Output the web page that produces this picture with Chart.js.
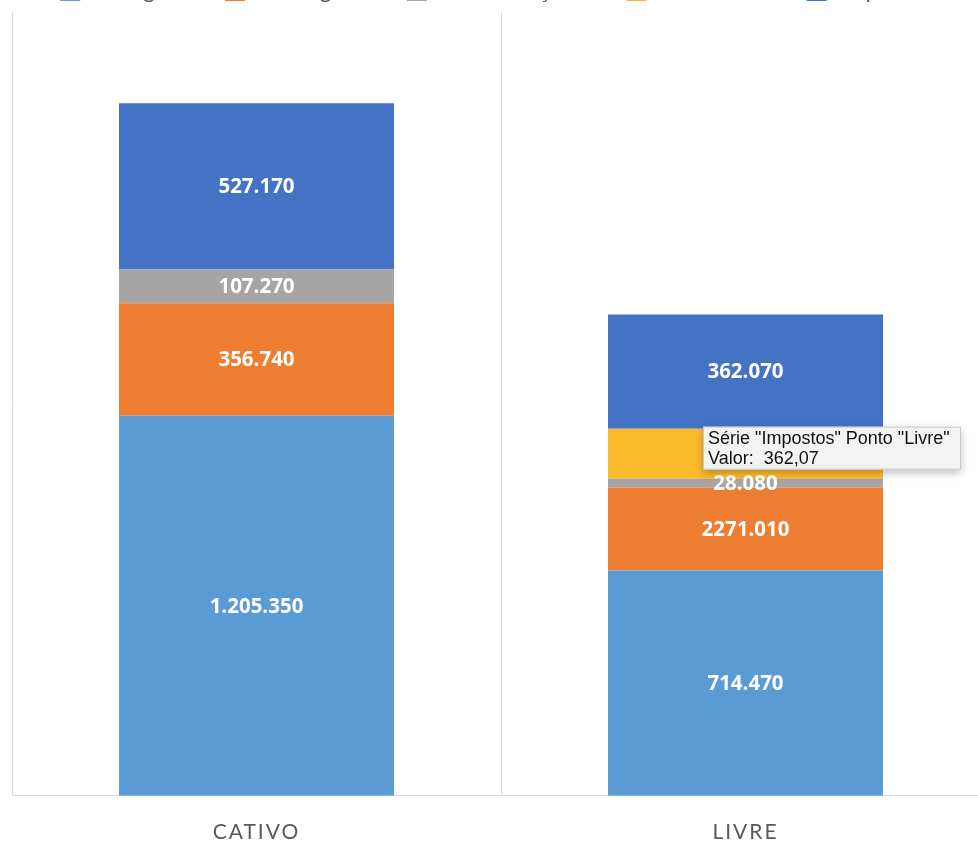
<!DOCTYPE html>
<html>
<head>
<meta charset="utf-8">
<script src="https://cdn.jsdelivr.net/npm/chart.js@4.4.1/dist/chart.umd.min.js"></script>
<style>
    html, body { margin: 0; padding: 0; background: #fff; }
    #wrap { position: relative; width: 978px; height: 843px; overflow: hidden; }
    #wrap canvas { position: absolute; left: 0; top: -68px; }
</style>
</head>
<body>
<div id="wrap"><canvas id="custoChart" width="1000" height="937"></canvas></div>
<script>
//////////////////////// Data ////////////////////////
const categories = ['CATIVO', 'LIVRE'];
const seriesNames = ['Energia', 'Encargos', 'Distribuição', 'Bandeira', 'Impostos'];
const energia = [1205.35, 714.47];
const encargos = [356.74, 263.0];
const distribuicao = [107.27, 28.08];
const bandeira = [0, 159.0];
const impostos = [527.17, 362.07];
// labels as written on the bars (the orange one on LIVRE reads 2271.010)
const energiaLabels = ['1.205.350', '714.470'];
const encargosLabels = ['356.740', '2271.010'];
const distribuicaoLabels = ['107.270', '28.080'];
const bandeiraLabels = [null, '159.000'];
const impostosLabels = ['527.170', '362.070'];
// hover box that sits over the LIVRE bar
const tooltipLines = ['Série "Impostos" Ponto "Livre"', 'Valor:  362,07'];

document.addEventListener('DOMContentLoaded', () => {
    const colors = ['#5B9BD5', '#ED7D31', '#A5A5A5', '#FBBA2C', '#4472C4'];
    const values = [energia, encargos, distribuicao, bandeira, impostos];
    const labels = [energiaLabels, encargosLabels, distribuicaoLabels, bandeiraLabels, impostosLabels];

    const datasets = seriesNames.map((name, i) => ({
        label: name,
        data: values[i],
        backgroundColor: colors[i],
        borderWidth: 0,
        barPercentage: 0.5624,
        categoryPercentage: 1.0,
        valueLabels: labels[i]
    }));

    // spaced-out legend / axis text (measured and drawn the same way),
    // reset before the bars are drawn
    const spacing = {
        id: 'spacing',
        beforeLayout(chart) { chart.ctx.letterSpacing = '2px'; },
        afterLayout(chart) { chart.ctx.letterSpacing = '0px'; },
        beforeDraw(chart) { chart.ctx.letterSpacing = '2px'; },
        beforeDatasetsDraw(chart) { chart.ctx.letterSpacing = '0px'; }
    };

    // white values in the middle of each segment
    const valueLabels = {
        id: 'valueLabels',
        afterDatasetsDraw(chart) {
            const ctx = chart.ctx;
            ctx.save();
            ctx.font = 'bold 20.5px "Open Sans"';
            ctx.fillStyle = '#ffffff';
            ctx.textAlign = 'center';
            ctx.textBaseline = 'middle';
            chart.data.datasets.forEach((ds, di) => {
                chart.getDatasetMeta(di).data.forEach((bar, idx) => {
                    const txt = ds.valueLabels[idx];
                    if (!txt || !ds.data[idx]) return;
                    ctx.fillText(txt, bar.x, (bar.y + bar.base) / 2 + 1);
                });
            });
            ctx.restore();
        }
    };

    // static hover box like the one in the screenshot
    const hoverBox = {
        id: 'hoverBox',
        afterDraw(chart) {
            const ctx = chart.ctx;
            const yellow = chart.getDatasetMeta(3).data[1];
            const x = yellow.x - yellow.width / 2 + 95;
            const y = yellow.y - 2;
            const w = 258, h = 43;
            ctx.save();
            ctx.letterSpacing = '0px';
            ctx.shadowColor = 'rgba(0,0,0,0.25)';
            ctx.shadowBlur = 8;
            ctx.shadowOffsetY = 3;
            ctx.fillStyle = '#f3f3f3';
            ctx.fillRect(x, y, w, h);
            ctx.shadowColor = 'transparent';
            ctx.strokeStyle = '#c8c8c8';
            ctx.lineWidth = 1;
            ctx.strokeRect(x + 0.5, y + 0.5, w - 1, h - 1);
            ctx.fillStyle = '#111111';
            ctx.font = '18px "Liberation Sans"';
            ctx.textBaseline = 'middle';
            ctx.fillText(tooltipLines[0], x + 5, y + 12);
            ctx.fillText(tooltipLines[1], x + 5, y + 32);
            ctx.restore();
        }
    };

    const config = {
        type: 'bar',
        data: { labels: categories, datasets: datasets },
        options: {
            responsive: false,
            animation: false,
            layout: { padding: { left: 12, right: 10, top: 0, bottom: 0 } },
            plugins: {
                legend: {
                    display: true,
                    position: 'top',
                    labels: {
                        boxWidth: 20,
                        boxHeight: 20,
                        padding: 48,
                        color: '#595959',
                        font: { family: 'Lato', size: 22 }
                    }
                },
                tooltip: { enabled: false }
            },
            scales: {
                x: {
                    stacked: true,
                    grid: { color: '#d9d9d9', drawTicks: false, offset: true },
                    border: { color: '#d9d9d9' },
                    ticks: {
                        padding: 24,
                        color: '#595959',
                        font: { family: 'Lato', size: 21 }
                    }
                },
                y: {
                    stacked: true,
                    display: false,
                    min: 0,
                    max: 2486
                }
            }
        },
        plugins: [spacing, valueLabels, hoverBox]
    };

    const ctx = document.getElementById('custoChart').getContext('2d');
    new Chart(ctx, config);
});
</script>
</body>
</html>
